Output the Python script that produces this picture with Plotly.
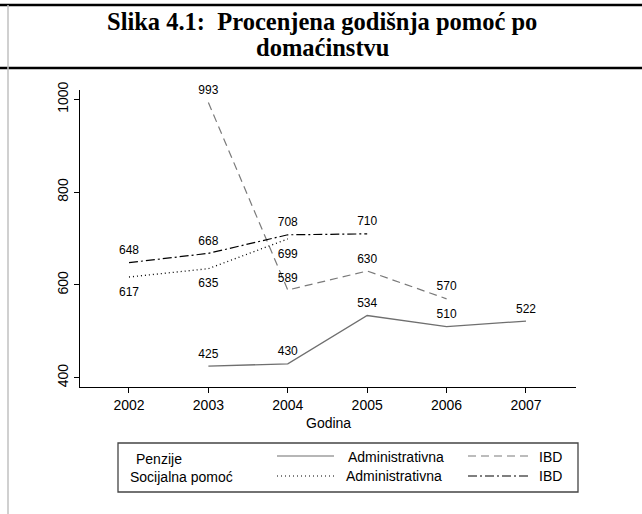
import plotly.graph_objects as go

# Procenjena godisnja pomoc po domacinstvu
years_pen_adm = [2003, 2004, 2005, 2006, 2007]
pen_adm = [425, 430, 534, 510, 522]

years_pen_ibd = [2003, 2004, 2005, 2006]
pen_ibd = [993, 589, 630, 570]

years_soc_adm = [2002, 2003, 2004]
soc_adm = [617, 635, 699]

years_soc_ibd = [2002, 2003, 2004, 2005]
soc_ibd = [648, 668, 708, 710]

x_ticks = [2002, 2003, 2004, 2005, 2006, 2007]
y_ticks = [400, 600, 800, 1000]

W, H = 642, 514
L, R, T, B = 80, 66, 90, 127
PW, PH = W - L - R, H - T - B


def px(x):
    return (x - L) / PW


def py(y):
    return (H - B - y) / PH


GRAY = "#6f6f6f"
DASH = "8px,5px"
DOT = "1px,3px"
DASHDOT = "9px,3px,2px,3px"
lbl_font = dict(family="Liberation Sans, Arial", size=12, color="black")
# invisible markers push the value labels a little away from the line
ghost_up = dict(size=7, color="rgba(0,0,0,0)")
ghost_dn = dict(size=14, color="rgba(0,0,0,0)")

fig = go.Figure()

fig.add_trace(go.Scatter(
    x=years_pen_adm, y=pen_adm, mode="lines+markers+text",
    text=[str(v) for v in pen_adm], textposition="top center",
    line=dict(color=GRAY, width=1.3), marker=ghost_up, textfont=lbl_font,
    cliponaxis=False, hoverinfo="skip"))

fig.add_trace(go.Scatter(
    x=years_pen_ibd, y=pen_ibd, mode="lines+markers+text",
    text=[str(v) for v in pen_ibd], textposition="top center",
    line=dict(color="#7a7a7a", width=1.2, dash=DASH), marker=ghost_up,
    textfont=lbl_font, cliponaxis=False, hoverinfo="skip"))

fig.add_trace(go.Scatter(
    x=years_soc_adm, y=soc_adm, mode="lines+markers+text",
    text=[str(v) for v in soc_adm], textposition="bottom center",
    line=dict(color="black", width=1.3, dash=DOT), marker=ghost_dn,
    textfont=lbl_font, cliponaxis=False, hoverinfo="skip"))

fig.add_trace(go.Scatter(
    x=years_soc_ibd, y=soc_ibd, mode="lines+markers+text",
    text=[str(v) for v in soc_ibd], textposition="top center",
    line=dict(color="black", width=1.2, dash=DASHDOT), marker=ghost_up,
    textfont=lbl_font, cliponaxis=False, hoverinfo="skip"))

tick_font = dict(family="Liberation Sans, Arial", size=14, color="black")

fig.update_xaxes(
    range=[2001.383, 2007.63], tickvals=x_ticks, ticks="outside", ticklen=5,
    tickcolor="black", showline=True, linecolor="black", linewidth=1,
    showgrid=False, zeroline=False, tickfont=tick_font)
fig.update_yaxes(
    range=[380, 1020], tickvals=y_ticks, ticks="outside", ticklen=5,
    tickcolor="black", showline=True, linecolor="black", linewidth=1,
    showgrid=False, zeroline=False, tickfont=tick_font, tickangle=-90)

shapes = []
# title box lines
for yy in (5, 68):
    shapes.append(dict(type="line", xref="paper", yref="paper",
                       x0=px(0), x1=px(W), y0=py(yy), y1=py(yy),
                       line=dict(color="black", width=2.5)))
# faint left border
shapes.append(dict(type="line", xref="paper", yref="paper",
                   x0=px(8), x1=px(8), y0=py(5), y1=py(H),
                   line=dict(color="#c0c0c0", width=1.5)))
# legend box
shapes.append(dict(type="rect", xref="paper", yref="paper",
                   x0=px(118), x1=px(578), y0=py(443), y1=py(492),
                   line=dict(color="#444444", width=1.3)))
# legend samples
samples = [
    (277, 334, 456, GRAY, "solid"),
    (468, 530, 456, "#7a7a7a", DASH),
    (277, 337, 476, "black", DOT),
    (468, 530, 476, "black", DASHDOT),
]
for x0, x1, y, c, d in samples:
    shapes.append(dict(type="line", xref="paper", yref="paper",
                       x0=px(x0), x1=px(x1), y0=py(y), y1=py(y),
                       line=dict(color=c, width=1.2, dash=d)))

annotations = []
title_font = dict(family="Liberation Serif, Times New Roman", size=24.5, color="black")
for t, yy in (("<b>Slika 4.1:\u00a0 Procenjena godišnja pomoć po</b>", 21),
              ("<b>domaćinstvu</b>", 48)):
    annotations.append(dict(
        text=t, xref="paper", yref="paper", x=px(322), y=py(yy),
        xanchor="center", yanchor="middle", showarrow=False, font=title_font))
annotations.append(dict(
    text="Godina", xref="paper", yref="paper", x=px(328), y=py(423),
    xanchor="center", yanchor="middle", showarrow=False, font=tick_font))

leg_font = dict(family="Liberation Sans, Arial", size=14, color="black")
leg_texts = [
    ("Penzije", 134, 459),
    ("Socijalna pomoć", 128, 477),
    ("Administrativna", 346, 457),
    ("Administrativna", 344, 476),
    ("IBD", 537, 457),
    ("IBD", 537, 476),
]
for t, x, y in leg_texts:
    annotations.append(dict(
        text=t, xref="paper", yref="paper", x=px(x), y=py(y),
        xanchor="left", yanchor="middle", showarrow=False, font=leg_font))

fig.update_layout(
    width=W, height=H, margin=dict(l=L, r=R, t=T, b=B),
    paper_bgcolor="white", plot_bgcolor="white", showlegend=False,
    shapes=shapes, annotations=annotations)

# page body has a default 8px margin and may show a scrollbar; remove both
page_js = (
    "document.head.insertAdjacentHTML('beforeend',"
    "'<style>html,body{margin:0;padding:0;overflow:hidden;scrollbar-width:none;}"
    "::-webkit-scrollbar{display:none;width:0;height:0;}</style>');"
)
fig.write_html("out.html", config={"displayModeBar": False}, post_script=page_js)
